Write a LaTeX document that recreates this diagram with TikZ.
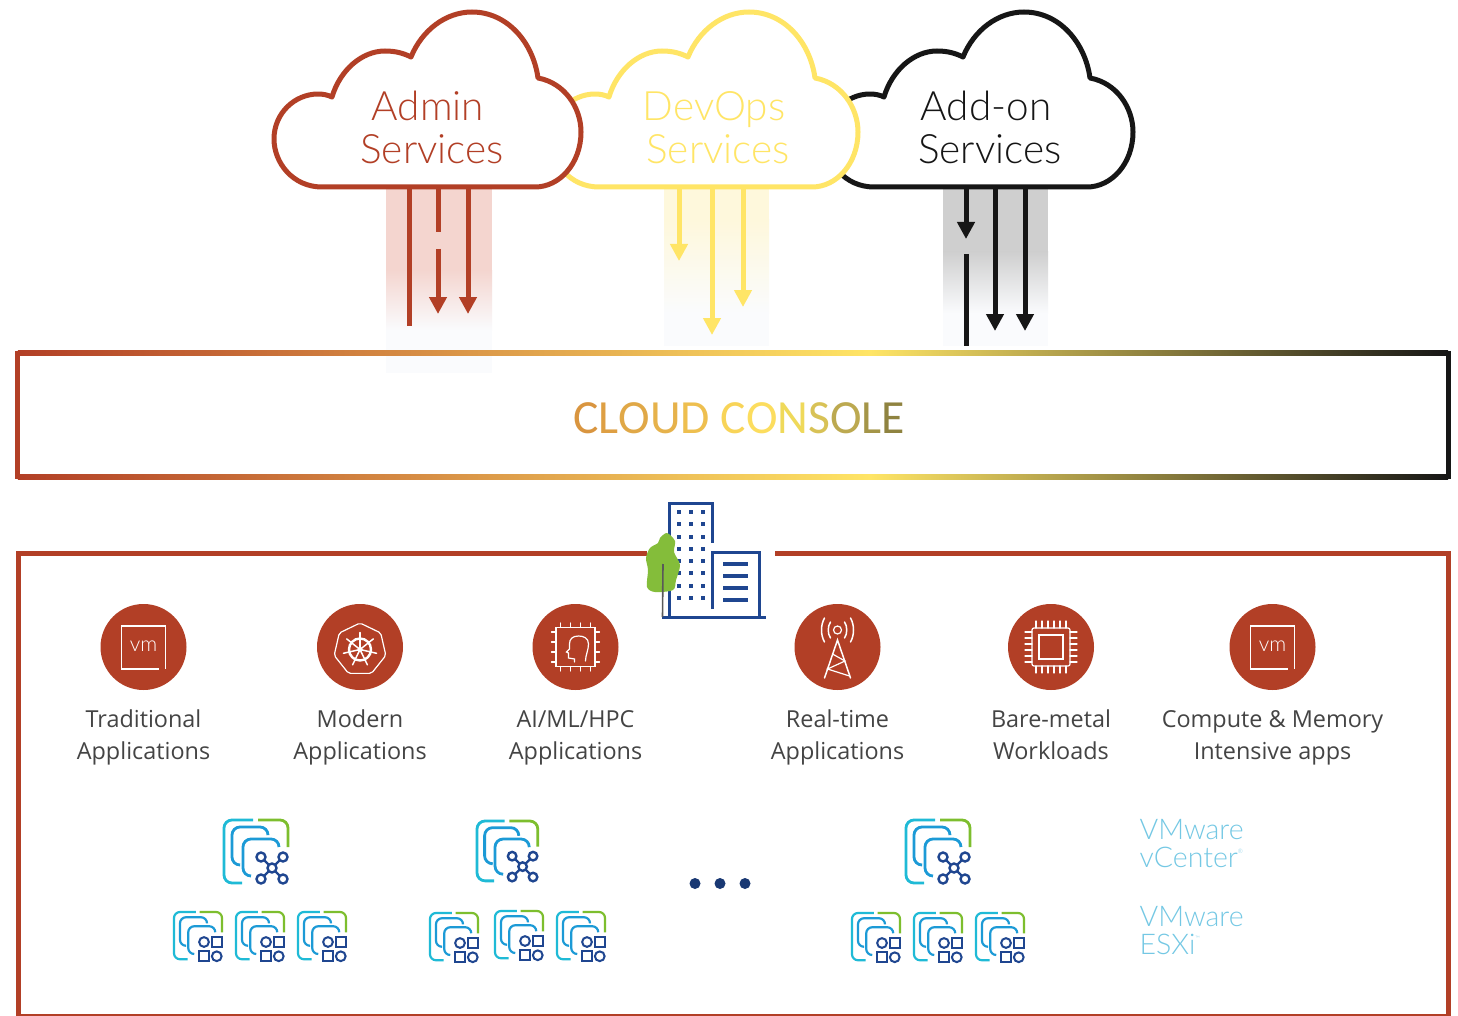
\documentclass[tikz,border=0pt]{standalone}
\usepackage{fontspec}
\setmainfont{Open Sans}
\newfontfamily\thinfont{Lato Light}
\newfontfamily\consolefont{Carlito}
\usetikzlibrary{arrows.meta}

\definecolor{adminred}{HTML}{B23F26}
\definecolor{devyellow}{HTML}{FFE566}
\definecolor{addonblack}{HTML}{161616}
\definecolor{beamred}{HTML}{F4D5CF}
\definecolor{beamyellow}{HTML}{FEF8DC}
\definecolor{beamgrey}{HTML}{CFCFCF}
\definecolor{beamend}{HTML}{FAFBFD}
\definecolor{navy}{HTML}{1F4690}
\definecolor{treegreen}{HTML}{84BD3A}
\definecolor{framecyan}{HTML}{1FBAD6}
\definecolor{frameblue}{HTML}{1C9AD6}
\definecolor{framegreen}{HTML}{7DBE2E}
\definecolor{skytext}{HTML}{74C8E4}
\definecolor{labelgrey}{HTML}{444444}

\newcommand{\cloudoutline}{(322,187) .. controls (293,187) and (274,163) .. (274,139)
  .. controls (274,113) and (295,94) .. (318,94) .. controls (323,94) and (328,95) .. (332,97)
  .. controls (340,70) and (362,51) .. (385,51) .. controls (395,51) and (403,53) .. (411,57)
  .. controls (422,30) and (446,12) .. (472,12) .. controls (507,12) and (533,42) .. (538,78)
  .. controls (565,83) and (581,108) .. (581,132) .. controls (581,163) and (560,187) .. (535,187) -- cycle}

\newcommand{\hostframes}[2]{
  \draw[framepart=framecyan, line width=#1, rounded corners=#2] (29,0) -- (0,0) -- (0,63) -- (18,63);
  \draw[framepart=framegreen, line width=#1, rounded corners=#2] (34,0) -- (64,0) -- (64,27);
  \draw[framepart=frameblue, line width=#1, rounded corners=#2] (44,14) -- (44,7) -- (8,7) -- (8,45) -- (15,45);
  \draw[framepart=frameblue, line width=#1, rounded corners=#2] (55,27) -- (55,19) -- (19,19) -- (19,56) -- (27,56);
}

\tikzset{
  cloudline/.style={draw=#1, fill=white, line width=5pt, line join=round},
  cloudtext/.style={text=#1, font=\thinfont\fontsize{40.5}{43}\selectfont, align=center},
  beamarrow/.style={draw=#1, line width=5pt, -{Triangle[width=17pt,length=17pt,fill=#1]}},
  beamline/.style={draw=#1, line width=5pt},
  appdisc/.style={circle, fill=adminred, minimum size=86pt, inner sep=0pt},
  applabel/.style={text=labelgrey, font=\fontsize{23.4}{32}\selectfont, align=center, text depth=6pt},
  glyph/.style={draw=white, line width=1.2pt, line cap=round},
  hosttext/.style={text=skytext, font=\thinfont\fontsize{28.5}{28}\selectfont, align=left, anchor=west, inner sep=0pt},
  framepart/.style={draw=#1},
  marker/.style={draw=navy, line width=2.4pt},
  vcenterhost/.pic={
    \hostframes{2.8pt}{8pt}
    \foreach \dx/\dy in {37/37,59/37,37/59,59/59}{
      \draw[marker] (48,48) -- (\dx,\dy);
      \draw[marker, fill=white] (\dx,\dy) circle (4.5);
    }
    \draw[marker, fill=white] (48,48) circle (4.5);
  },
  esxihost/.pic={
    \hostframes{2.2pt}{6pt}
    \draw[marker, line width=2pt] (40,40) circle (6.5);
    \draw[marker, line width=2pt] (50.5,33.5) rectangle (63.5,46.5);
    \draw[marker, line width=2pt] (33.5,52.5) rectangle (46.5,65.5);
    \draw[marker, line width=2pt] (57,59) circle (6.5);
  },
  vmglyph/.pic={
    \draw[glyph, line cap=butt] (15,22) -- (-22,22) -- (-22,-21) -- (22,-21) -- (22,22);
    \node[text=white, font=\thinfont\fontsize{21}{21}\selectfont] (vm) at (0,-1) {vm};
  },
  helmglyph/.pic={
    \draw[glyph, rounded corners=2pt] (270:26.5)
      \foreach \k in {1,...,6}{ -- ({270+\k*360/7}:26.5) } -- cycle;
    \draw[glyph, line width=2.4pt] (0,0) circle (11);
    \foreach \k in {0,...,6}{
      \draw[glyph, line width=1.5pt] ({270+\k*360/7}:2) -- ({270+\k*360/7}:17);
    }
    \fill[white] (0,0) circle (2.5);
  },
  mindglyph/.pic={
    \draw[glyph] (-19.5,-19.5) rectangle (19.5,19.5);
    \foreach \p in {-15,-5,5,15}{
      \draw[glyph] (\p,-19.5) -- (\p,-24) (\p,19.5) -- (\p,24);
      \draw[glyph] (-19.5,\p) -- (-24,\p) (19.5,\p) -- (24,\p);
    }
    \draw[glyph] (10,14) .. controls (10,8) and (13,3) .. (13,-3) .. controls (13,-9) and (8,-11) .. (3,-11)
      .. controls (-3,-11) and (-6,-8) .. (-6,-3) -- (-6,2) -- (-9,5) -- (-7,6) -- (-7,11) -- (-1,12) -- (-1,15);
  },
  towerglyph/.pic={
    \draw[glyph] (0,-17) circle (4);
    \draw[glyph, line width=1.5pt] (-13,31) -- (0,-7) -- (13,31);
    \draw[glyph] (-5,7) -- (7.5,14) -- (-10,22) -- (12,29);
    \foreach \s in {-1,1}{
      \draw[glyph, line width=1.5pt] (\s*7,-25) .. controls (\s*10,-21) and (\s*10,-13) .. (\s*7,-9);
      \draw[glyph, line width=1.5pt] (\s*13,-29) .. controls (\s*17,-22) and (\s*17,-12) .. (\s*13,-5);
    }
  },
  chipglyph/.pic={
    \draw[glyph, rounded corners=2pt] (-19,-19) rectangle (19,19);
    \draw[glyph, line width=1.6pt] (-12,-12) rectangle (12,12);
    \foreach \p in {-15,-9,-3,3,9,15}{
      \draw[glyph] (\p,-19) -- (\p,-26) (\p,19) -- (\p,26);
      \draw[glyph] (-19,\p) -- (-26,\p) (19,\p) -- (26,\p);
    }
  }
}

\begin{document}
\begin{tikzpicture}[x=1pt, y=-1pt]
\useasboundingbox (0,0) rectangle (1458,1016);
\fill[white] (0,0) rectangle (1458,1016);

% beams behind the arrows
\foreach \bl/\br/\tone/\ftop/\fbot/\bbot in {386/492/beamred/270/330/373, 664/769/beamyellow/220/313/346, 943/1048/beamgrey/252/313/346}{
  \fill[\tone] (\bl,187) rectangle (\br,\ftop);
  \shade[top color=\tone, bottom color=beamend] (\bl,\ftop) rectangle (\br,\fbot);
  \fill[beamend] (\bl,\fbot) rectangle (\br,\bbot);
}

% clouds
\draw[cloudline=addonblack, shift={(552,0)}] \cloudoutline;
\draw[cloudline=devyellow, shift={(277,0)}] \cloudoutline;
\draw[cloudline=adminred] \cloudoutline;
\node[cloudtext=adminred] (admin) at (432,127.5) {Admin\hspace*{8pt}\\Services};
\node[cloudtext=devyellow] (devops) at (718,127.5) {DevOps\hspace*{8pt}\\Services};
\node[cloudtext=addonblack] (addon) at (990,127.5) {Add-on\hspace*{8pt}\\Services};

% arrows out of the clouds
\coordinate (cloudbase) at (0,187);
\foreach \name/\ax/\ay in {adminA/409/326, adminB/438/232, adminC/438/249, adminD/438/314, adminE/468/314,
    devopsA/679/261, devopsB/712/335, devopsC/743/307,
    addonA/966/239, addonB/966/254, addonC/966/346, addonD/995/331, addonE/1025/331}{
  \coordinate (\name) at (\ax,\ay);
}
\draw[beamline=adminred] (adminA |- cloudbase) -- (adminA);
\draw[beamline=adminred] (adminB |- cloudbase) -- (adminB);
\draw[beamarrow=adminred] (adminC) -- (adminD);
\draw[beamarrow=adminred] (adminE |- cloudbase) -- (adminE);
\draw[beamarrow=devyellow] (devopsA |- cloudbase) -- (devopsA);
\draw[beamarrow=devyellow] (devopsB |- cloudbase) -- (devopsB);
\draw[beamarrow=devyellow] (devopsC |- cloudbase) -- (devopsC);
\draw[beamarrow=addonblack] (addonA |- cloudbase) -- (addonA);
\draw[beamline=addonblack] (addonB) -- (addonC);
\draw[beamarrow=addonblack] (addonD |- cloudbase) -- (addonD);
\draw[beamarrow=addonblack] (addonE |- cloudbase) -- (addonE);

% console box
\node[minimum width=1430pt, minimum height=123pt, inner sep=0pt] (console) at (733,415) {};
\node[font=\consolefont\fontsize{47.6}{48}\selectfont, inner sep=0pt] (consolelabel) at (739,418)
  {\textcolor[HTML]{D9953F}{C}\textcolor[HTML]{DE9F43}{L}\textcolor[HTML]{E0A847}{O}\textcolor[HTML]{E6B24B}{U}\textcolor[HTML]{EEBF4F}{D} \textcolor[HTML]{F8D458}{C}\textcolor[HTML]{FCDD5E}{O}\textcolor[HTML]{EFD95A}{N}\textcolor[HTML]{D8C256}{S}\textcolor[HTML]{BCA950}{O}\textcolor[HTML]{A49548}{L}\textcolor[HTML]{8F8340}{E}};
\foreach \edge in {north, south}{
  \coordinate (yellowpeak) at (console.\edge -| 870,0);
  \shade[left color=adminred, right color=devyellow] ([yshift=2.5pt]console.\edge\space west) rectangle ([yshift=-2.5pt]yellowpeak);
  \shade[left color=devyellow, right color=addonblack] ([yshift=2.5pt]yellowpeak) rectangle ([yshift=-2.5pt]console.\edge\space east);
}
\draw[adminred, line width=5pt] ([yshift=2.5pt]console.north west) -- ([yshift=-2.5pt]console.south west);
\draw[addonblack, line width=5pt] ([yshift=2.5pt]console.north east) -- ([yshift=-2.5pt]console.south east);

% on-premises frame
\draw[adminred, line width=5pt] (647,553) -- (18,553) -- (18,1016) -- (1448,1016) -- (1448,553) -- (775,553);

% building and tree
\draw[navy, line width=3pt] (669,617) -- (669,503) -- (712,503) -- (712,543);
\draw[navy, line width=3pt] (712,609) -- (712,552) -- (759,552) -- (759,617);
\draw[navy, line width=3pt] (662,617) -- (766,617);
\foreach \wx in {679,691,703}{
  \foreach \wy in {512,524,537,549,561,573,586,598}{
    \fill[navy] (\wx-2,\wy-2) rectangle (\wx+2,\wy+2);
  }
}
\foreach \wy in {564,576,588,600}{
  \draw[navy, line width=4pt] (723,\wy) -- (748,\wy);
}
\fill[treegreen] plot[smooth cycle] coordinates {(667,533) (675,541) (674,552) (680,565) (676,580) (673,590) (655,592) (647,587) (648,570) (646,558) (650,548) (658,543) (660,538)};
\draw[black!65, line width=1.6pt] (663,564) -- (662.5,617);

% workload discs
\node[appdisc] (tradicon) at (143.5,647) {};
\node[appdisc] (modernicon) at (360,647) {};
\node[appdisc] (aiicon) at (575.5,647) {};
\node[appdisc] (realicon) at (837.5,647) {};
\node[appdisc] (bareicon) at (1051,647) {};
\node[appdisc] (computeicon) at (1272.5,647) {};
\pic at (tradicon) {vmglyph};
\pic at (360,649.5) {helmglyph};
\pic at (aiicon) {mindglyph};
\pic at (realicon) {towerglyph};
\pic at (bareicon) {chipglyph};
\pic at (computeicon) {vmglyph};

\node[applabel] (tradlabel) at (143.5,738) {Traditional\\Applications};
\node[applabel] (modernlabel) at (360,738) {Modern\\Applications};
\node[applabel] (ailabel) at (575.5,738) {AI/ML/HPC\\Applications};
\node[applabel] (reallabel) at (837.5,738) {Real-time\\Applications};
\node[applabel] (barelabel) at (1051,738) {Bare-metal\\Workloads};
\node[applabel] (computelabel) at (1272.5,738) {Compute \& Memory\\Intensive apps};

% vcenter and esxi icons
\pic at (224,820) {vcenterhost};
\pic[scale=.95] at (477,821) {vcenterhost};
\pic at (906,820) {vcenterhost};
\foreach \hx/\hy in {174/912, 236/912, 298/912, 430/913, 495/911, 557/912, 852/913, 914/913, 976/913}{
  \pic[scale=.75] at (\hx,\hy) {esxihost};
}
\foreach \dx in {695,720,745}{
  \fill[navy!80!black] (\dx,883.5) circle (5.5);
}
\node[hosttext] (vcentertext) at (1139.5,844) {VMware\\vCenter{\fontsize{6}{6}\selectfont\raisebox{14pt}{®}}};
\node[hosttext] (esxitext) at (1139.5,931) {VMware\\ESXi{\fontsize{6}{6}\selectfont\raisebox{14pt}{™}}};
\end{tikzpicture}
\end{document}
